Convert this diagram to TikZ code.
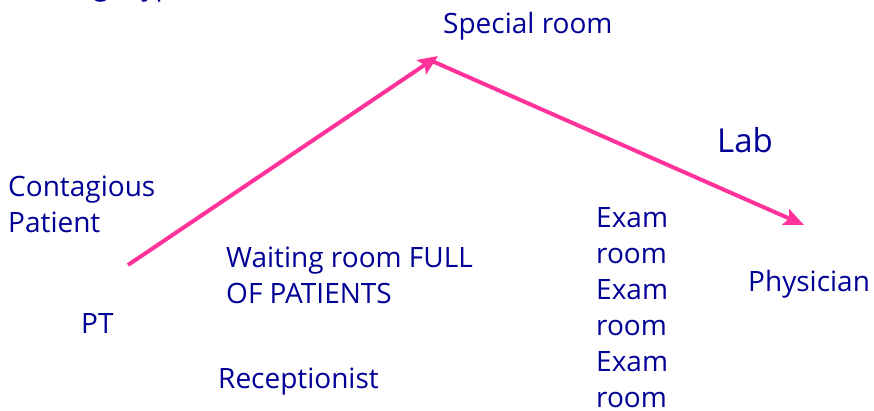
\documentclass[tikz,border=0pt]{standalone}
\usepackage{fontspec}
\setmainfont{Open Sans}
\usetikzlibrary{arrows.meta}
\definecolor{txtblue}{RGB}{0,0,150}
\definecolor{pink}{RGB}{255,51,153}
\begin{document}
\begin{tikzpicture}[x=1pt,y=-1pt,
  lbl/.style={anchor=base west,inner sep=0pt,text=txtblue,font=\fontsize{28}{36}\selectfont,align=left},
  big/.style={lbl,font=\fontsize{33}{40}\selectfont},
  flow/.style={draw=pink,line width=4pt,-{Stealth[length=20pt,width=17pt,inset=4pt]}}]
\useasboundingbox (0,0) rectangle (874,410);
\begin{scope}
\clip (0,0) rectangle (874,410);
\node[lbl] (top) at (45,-5) {Triage type};
\end{scope}
\node[lbl] (special) at (443,33) {Special room};
\node[big] (lab) at (717,152) {Lab};
\node[lbl] (contag) at (8,232) {Contagious\\Patient};
\node[lbl] (waiting) at (226,303) {Waiting room FULL\\OF PATIENTS};
\node[lbl] (pt) at (81,333) {PT};
\node[lbl] (recep) at (218,388) {Receptionist};
\node[lbl] (exam) at (596,407) {Exam\\room\\Exam\\room\\Exam\\room};
\node[lbl] (phys) at (748,291) {Physician};
\coordinate (a0) at (128,265);
\coordinate (a1) at (438,56);
\coordinate (b0) at (432,61);
\coordinate (b1) at (804,225);
\draw[flow] (a0) -- (a1);
\draw[flow] (b0) -- (b1);
\end{tikzpicture}
\end{document}
